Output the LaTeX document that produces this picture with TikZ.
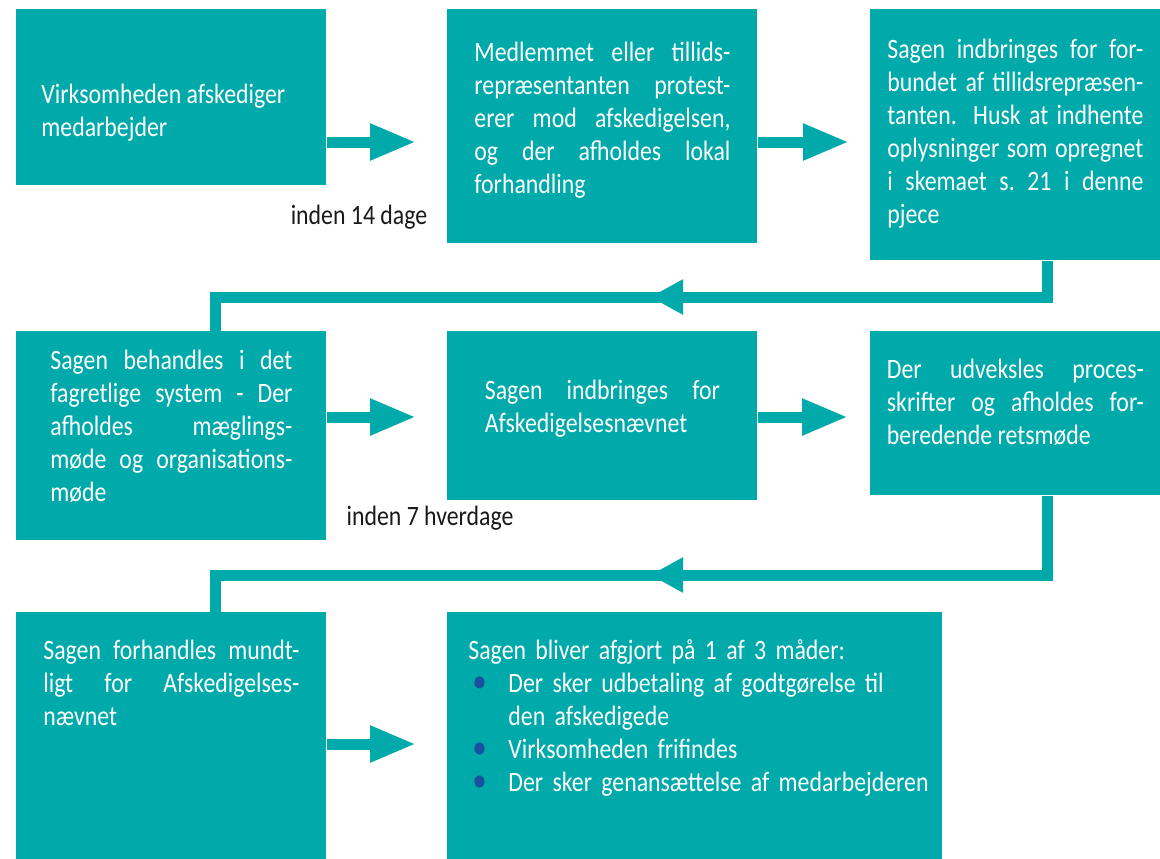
\documentclass[tikz,border=0pt]{standalone}
\usepackage{fontspec}
\setmainfont{Carlito}[FakeStretch=0.85]
\usetikzlibrary{arrows.meta}
\usepackage{xcolor}
\definecolor{boxteal}{RGB}{0,169,170}
\definecolor{dotblue}{RGB}{25,80,160}
\newcommand{\boxfont}{\fontsize{14pt}{16.5pt}\selectfont}
\newcommand{\dotitem}{\par\noindent\hangindent=20pt\hangafter=1\makebox[20pt][l]{\hspace{2pt}\textcolor{dotblue}{\fontsize{17pt}{16.5pt}\selectfont •}}}

\begin{document}
\begin{tikzpicture}[x=0.5pt, y=-0.5pt,
		steparrow/.style={draw=boxteal, line width=5.5pt, -{Triangle[length=23pt, width=17pt]}},
		linkline/.style={draw=boxteal, line width=5.5pt}]
		\useasboundingbox (0,0) rectangle (1160,858);
		\begin{scope}[every node/.style={rectangle, fill=boxteal, text=white, anchor=north west, inner sep=0pt, align=justify, font=\boxfont,
				execute at begin node={\tolerance=10000\hyphenpenalty=10000}}]
			\node[minimum width=155pt, text width=130pt, text height=47.25pt, text depth=40.75pt] (b1) at (16,9)
			{Virksomheden afskediger\newline medarbejder};
			\node[minimum width=155pt, text width=128pt, text height=26.25pt, text depth=90.75pt] (b2) at (447,9)
			{Medlemmet eller tillids-\linebreak repræsentanten protest-\linebreak erer mod afskedigelsen,\linebreak og der afholdes lokal\linebreak forhandling};
			\node[minimum width=145pt, text width=128pt, text height=24.75pt, text depth=100.75pt] (b3) at (870,9)
			{Sagen indbringes for for-\linebreak bundet af tillidsrepræsen-\linebreak tanten. Husk at indhente\linebreak oplysninger som opregnet\linebreak i skemaet s.~21 i denne\linebreak pjece};
			\node[minimum width=155pt, text width=121pt, text height=19.25pt, text depth=85.25pt] (b4) at (16,331)
			{Sagen behandles i det\linebreak fagretlige system - Der\linebreak afholdes mæglings-\linebreak møde og organisations-\linebreak møde};
			\node[minimum width=155pt, text width=117.5pt, text height=34.25pt, text depth=50.25pt] (b5) at (447,331)
			{Sagen indbringes for\linebreak Afskedigelsesnævnet};
			\node[minimum width=145pt, text width=128.5pt, text height=23.75pt, text depth=58.25pt] (b6) at (870,331)
			{Der udveksles proces-\linebreak skrifter og afholdes for-\linebreak beredende retsmøde};
			\node[minimum width=155pt, text width=128pt, text height=23.75pt, text depth=105.25pt] (b7) at (16,612)
			{Sagen forhandles mundt-\linebreak ligt for Afskedigelses-\linebreak nævnet};
			\node[minimum width=247.5pt, text width=240pt, text height=23.75pt, text depth=105.25pt, align=left] (b8) at (447,612)
			{\leftskip=6.75pt Sagen bliver afgjort på 1 af 3 måder:
				\dotitem Der sker udbetaling af godtgørelse til\newline den afskedigede
				\dotitem Virksomheden frifindes
				\dotitem Der sker genansættelse af medarbejderen\par};
		\end{scope}
		\node[font=\boxfont, text=black!90, inner sep=0pt] (lim1) at (359,217) {inden 14 dage};
		\node[font=\boxfont, text=black!90, inner sep=0pt] (lim2) at (430,518) {inden 7 hverdage};
		% arrow rows
		\coordinate (r1) at (0,142);
		\coordinate (r2) at (0,417);
		\coordinate (r3) at (0,744);
		\draw[steparrow, shorten >=15.5pt] (b1.east |- r1) -- (b2.west |- r1);
		\draw[steparrow, shorten >=10.5pt] (b2.east |- r1) -- (b3.west |- r1);
		\draw[steparrow, shorten >=15.5pt] (b4.east |- r2) -- (b5.west |- r2);
		\draw[steparrow, shorten >=11pt] (b5.east |- r2) -- (b6.west |- r2);
		\draw[steparrow, shorten >=15.5pt] (b7.east |- r3) -- (b8.west |- r3);
		% links down to the next row
		\coordinate (k1) at (1047,297);
		\coordinate (k2) at (215,297);
		\coordinate (h1) at (650,297);
		\coordinate (k3) at (1047,575);
		\coordinate (k4) at (215,575);
		\coordinate (h2) at (650,575);
		\draw[linkline] (b3.south -| k1) -- (k1) -- (k2) -- (b4.north -| k2);
		\draw[linkline, -{Triangle[length=16.5pt, width=16.5pt]}] (k1) -- (h1);
		\draw[linkline] (b6.south -| k3) -- (k3) -- (k4) -- (b7.north -| k4);
		\draw[linkline, -{Triangle[length=16.5pt, width=16.5pt]}] (k3) -- (h2);
	\end{tikzpicture}
\end{document}
